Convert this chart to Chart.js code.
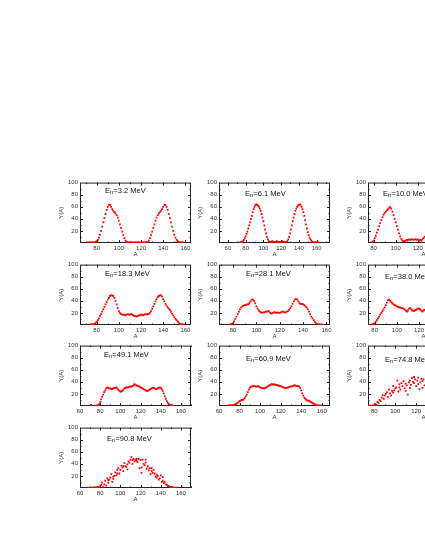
<!DOCTYPE html>
<html>
<head>
<meta charset="utf-8">
<script src="https://cdn.jsdelivr.net/npm/chart.js@4"></script>
<style>
  html, body { margin: 0; padding: 0; background: #fff; }
  body { width: 425px; height: 550px; overflow: hidden; position: relative; }
  .panel { position: absolute; }
</style>
</head>
<body>
<div id="wrap"></div>
<script>
// fission product yields Y(A) vs mass number A, one panel per neutron energy
const energies = ['3.2', '6.1', '10.0', '18.3', '28.1', '38.0', '49.1', '60.9', '74.8', '90.8'];

const a32 = [72,73,74,75,76,77,78,79,80,81,82,83,84,85,86,87,88,89,90,91,92,93,94,95,96,97,98,99,100,101,102,103,104,105,106,107,108,109,110,111,112,113,114,115,116,117,118,119,120,121,122,123,124,125,126,127,128,129,130,131,132,133,134,135,136,137,138,139,140,141,142,143,144,145,146,147,148,149,150,151,152,153,154,155,156,157,158];
const y32 = [1,1,1,1,1,1,1,
  2,3,5,9,14,20,27,34,41,48,55,60,63,63,60,56,53,51,49,46,42,37,31,25,19,13,8,4,2,1,
  1,1,1,0.5,1,1,1,1,1,1,1,1,0.5,1,1,1,1,
  2,4,8,13,19,25,31,37,42,46,49,51,53,56,60,63,63,60,55,48,41,34,27,20,14,9,5,3,2,1,1,1,1];

const a61 = [74,75,76,77,78,79,80,81,82,83,84,85,86,87,88,89,90,91,92,93,94,95,96,97,98,99,100,101,102,103,104,105,106,107,108,109,110,111,112,113,114,115,116,117,118,119,120,121,122,123,124,125,126,127,128,129,130,131,132,133,134,135,136,137,138,139,140,141,142,143,144,145,146,147,148,149,150,151,152,153,154,155,156,157,158,159,160,161,162];
const y61 = [1,1,2,3,5,8,11,15,19,24,29,34,40,45,51,56,60,63,64,63,62,60,57,53,48,42,36,29,22,16,10,6,3,2,
  2,2,3,2,2,2,2,3,2,2,2,2,2,3,2,2,2,2,2,
  3,6,10,16,22,29,36,42,48,53,57,60,62,63,64,63,60,56,51,45,38,31,24,18,13,9,6,4,2,1,1,1,1,1,1,1];

const a100 = [74,78,79,80,81,82,83,84,85,86,87,88,89,90,91,92,93,94,95,96,97,98,99,100,101,102,103,104,105,106,107,108,109,110,111,112,113,114,115,116,117,118,119,120,121,122,123,124,125,126,127];
const y100 = [1,1,2,4,8,12,17,22,28,33,38,43,47,50,52,54,56,58,60,57,52,46,40,34,28,22,16,11,7,4,3,3,4,5,5,6,5,6,6,5,6,6,5,6,4,5,4,6,8,10,12];

const a183 = [74,75,76,77,78,79,80,81,82,83,84,85,86,87,88,89,90,91,92,93,94,95,96,97,98,99,100,101,102,103,104,105,106,107,108,109,110,111,112,113,114,115,116,117,118,119,120,121,122,123,124,125,126,127,128,129,130,131,132,133,134,135,136,137,138,139,140,141,142,143,144,145,146,147,148,149,150,151,152,153,154,155,156,157,158,159];
const y183 = [0.5,1,1,1,2,3,5,8,11,15,18,22,26,30,34,38,42,45,48,49,49,48,45,40,34,28,23,20,18,
  17,17,17,16,17,18,17,17,18,17,16,15,15,14,15,16,16,17,17,16,17,18,17,18,18,
  20,23,27,31,35,39,43,46,48,49,49,47,43,39,35,32,29,27,25,22,19,16,13,10,8,6,4,2,1,1,0.5,0.5];

const a281 = [77,78,79,80,81,82,83,84,85,86,87,88,89,90,91,92,93,94,95,96,97,98,99,100,101,102,103,104,105,106,107,108,109,110,111,112,113,114,115,116,117,118,119,120,121,122,123,124,125,126,127,128,129,130,131,132,133,134,135,136,137,138,139,140,141,142,143,144,145,146,147,148,149,150,151,152,153,154,155,156,157];
const y281 = [0.5,1,2,3,6,10,14,18,22,26,29,31,32,33,33,34,34,36,39,42,42,40,36,31,27,24,22,
  21,20,21,21,22,22,23,22,20,19,20,21,21,20,21,20,20,21,22,22,21,21,22,
  23,25,28,31,35,39,42,43,42,39,36,35,35,34,33,31,29,26,22,18,14,11,8,5,3,2,1,1,0.5,0.5,0.5];

const a380 = [74,77,78,79,80,81,82,83,84,85,86,87,88,89,90,91,92,93,94,95,96,97,98,99,100,101,102,103,104,105,106,107,108,109,110,111,112,113,114,115,116,117,118,119,120,121,122,123,124,125,126];
const y380 = [0.5,0.5,1,2,3,5,8,11,14,17,20,23,26,29,33,37,41,42,40,38,36,34,33,32,31,30,29,29,28,28,27,26,24,22,24,27,28,26,24,23,24,25,26,27,27,26,24,22,24,25,26];

const a491 = [71,76,77,78,79,80,81,82,83,84,85,86,87,88,89,90,91,92,93,94,95,96,97,98,99,100,101,102,103,104,105,106,107,108,109,110,111,112,113,114,115,116,117,118,119,120,121,122,123,124,125,126,127,128,129,130,131,132,133,134,135,136,137,138,139,140,141,142,143,144,145,146,147,148,149,150,151,152,161];
const y491 = [2,
  0.5,0.5,1,3,7,11,15,19,23,26,
  29,31,30,29,29,28,28,29,30,30,
  31,29,27,25,24,24,25,27,29,30,
  31,31,31,32,32,32,33,34,36,35,
  34,33,33,32,31,30,29,28,27,26,
  25,25,26,27,28,29,30,30,29,28,
  28,29,30,31,30,28,25,21,16,12,
  8,5,3,2,1,1,0.5,
  1];

const a609 = [69,70,71,72,73,74,75,76,77,78,79,80,81,82,83,84,85,86,87,88,89,90,91,92,93,94,95,96,97,98,99,100,101,102,103,104,105,106,107,108,109,110,111,112,113,114,115,116,117,118,119,120,121,122,123,124,125,126,127,128,129,130,131,132,133,134,135,136,137,138,139,140,141,142,143,144,145,146,147,148,149,150,151,152,153,154,155,156,157,158,159,160];
const y609 = [0.5,0.5,1,1,1,2,2,3,4,5,
  6,8,9,10,10,11,13,16,19,23,
  27,30,32,32,33,33,33,32,32,33,
  32,31,30,30,29,29,30,31,32,33,
  34,35,36,36,35,36,35,35,34,34,
  33,33,32,31,31,30,30,30,31,31,
  32,32,33,33,34,34,33,33,33,32,
  30,26,21,17,14,12,10,9,9,8,
  7,6,5,4,3,2,1.5,1,1,0.5,
  0.5,0.5];

const a748 = [73,75,77,79,80,81,82,83,84,85,86,87,88,89,90,91,92,93,94,95,96,97,98,99,100,101,102,103,104,105,106,107,108,109,110,111,112,113,114,115,116,117,118,119,120,121,122,123,124,125,126,127,128,
  98,104,110,114,118,122,126];
const y748 = [1,0.5,0.5,1,
  0.5,3,2,7,5,10,8,14,18,12,
  17,20,23,15,27,21,17,25,33,26,
  29,31,42,24,36,27,38,33,41,29,
  37,34,19,39,42,35,46,40,48,44,
  33,42,36,28,39,45,30,44,34,
  22,31,25,30,38,47,41];

const a908 = [68,70,72,74,75,76,77,78,79,80,81,82,83,84,85,86,87,88,89,90,91,92,93,94,95,96,97,98,99,100,101,102,103,104,105,106,107,108,109,110,111,112,113,114,115,116,117,118,119,120,121,122,123,124,125,126,127,128,129,130,131,132,133,134,135,136,137,138,139,140,141,142,143,144,145,146,147,148,149,150,151,152,153,155,157,
  88,93,97,103,107,112,116,121,125,131,136,142];
const y908 = [0.5,0.5,0.5,1,
  0.5,1,1,2,1,3,5,9,2,6,
  12,4,16,9,14,17,23,10,15,20,
  26,21,30,33,24,30,37,34,28,41,
  36,35,39,44,42,47,51,46,48,44,
  46,45,43,48,33,46,25,47,40,38,
  42,32,36,29,33,23,33,25,30,24,
  19,22,20,14,16,21,10,12,8,10,
  6,5,3,3,2,2,1,1,0.5,
  0.5,0.5,
  13,19,24,36,31,40,48,34,47,28,17,18];

const xTicks = [60, 80, 100, 120, 140, 160];
const yTicks = [20, 40, 60, 80, 100];

// panel layout: plot-area corner, x range, label offset
const panels = [
  { a: a32,  y: y32,  min: 65, max: 165, left: 80,  top: 182, dx: 25, dy: 8 },
  { a: a61,  y: y61,  min: 50, max: 175, left: 219, top: 182, dx: 26, dy: 11 },
  { a: a100, y: y100, min: 75, max: 175, left: 368, top: 182, dx: 15, dy: 11 },
  { a: a183, y: y183, min: 65, max: 165, left: 80,  top: 264, dx: 25, dy: 9 },
  { a: a281, y: y281, min: 68, max: 163, left: 219, top: 264, dx: 27, dy: 9 },
  { a: a380, y: y380, min: 74, max: 174, left: 368, top: 264, dx: 17, dy: 12 },
  { a: a491, y: y491, min: 60, max: 170, left: 80,  top: 345, dx: 24, dy: 9 },
  { a: a609, y: y609, min: 60, max: 168, left: 219, top: 345, dx: 27, dy: 13 },
  { a: a748, y: y748, min: 74, max: 180, left: 368, top: 345, dx: 17, dy: 14 },
  { a: a908, y: y908, min: 60, max: 170, left: 80,  top: 427, dx: 27, dy: 11 }
];

const FONT = '"Liberation Sans", Arial, sans-serif';
const PLOT_W = 111, PLOT_H = 61;
const PAD_L = 22, PAD_T = 5, PAD_R = 4, PAD_B = 15;

// box round the plot with small inward ticks on all four sides
const frameTicks = {
  id: 'frameTicks',
  beforeDatasetsDraw(chart) {
    const { ctx, chartArea: ca, scales: { x, y } } = chart;
    ctx.save();
    ctx.strokeStyle = '#222';
    ctx.lineWidth = 1;
    ctx.strokeRect(ca.left + 0.5, ca.top + 0.5, ca.width - 1, ca.height - 1);
    ctx.beginPath();
    for (let v = Math.ceil(x.min / 10) * 10; v <= x.max; v += 10) {
      const px = Math.round(x.getPixelForValue(v)) + 0.5;
      const len = v % 20 === 0 ? 3 : 1.5;
      ctx.moveTo(px, ca.bottom); ctx.lineTo(px, ca.bottom - len);
      ctx.moveTo(px, ca.top); ctx.lineTo(px, ca.top + len);
    }
    for (let v = 10; v < 100; v += 10) {
      const py = Math.round(y.getPixelForValue(v)) + 0.5;
      const len = v % 20 === 0 ? 3 : 1.5;
      ctx.moveTo(ca.left, py); ctx.lineTo(ca.left + len, py);
      ctx.moveTo(ca.right, py); ctx.lineTo(ca.right - len, py);
    }
    ctx.stroke();
    ctx.restore();
  }
};

// "En=3.2 MeV" with subscript n
const panelTitle = {
  id: 'panelTitle',
  afterDraw(chart, args, opts) {
    const { ctx, chartArea: ca } = chart;
    let x = ca.left + opts.dx;
    const y = ca.top + opts.dy;
    ctx.save();
    ctx.fillStyle = '#111';
    ctx.textBaseline = 'middle';
    ctx.font = '7.5px ' + FONT;
    ctx.fillText('E', x, y);
    x += ctx.measureText('E').width;
    ctx.font = '5.5px ' + FONT;
    ctx.fillText('n', x, y + 2);
    x += ctx.measureText('n').width + 0.3;
    ctx.font = '7.5px ' + FONT;
    ctx.fillText('=' + opts.text + ' MeV', x, y);
    ctx.restore();
  }
};

const wrap = document.getElementById('wrap');

panels.forEach((p, i) => {
  const box = document.createElement('div');
  box.className = 'panel';
  const w = PAD_L + PLOT_W + PAD_R, h = PAD_T + PLOT_H + PAD_B;
  box.style.left = (p.left - PAD_L) + 'px';
  box.style.top = (p.top - PAD_T) + 'px';
  box.style.width = w + 'px';
  box.style.height = h + 'px';
  const cv = document.createElement('canvas');
  cv.width = w; cv.height = h;
  cv.style.width = w + 'px'; cv.style.height = h + 'px';
  box.appendChild(cv);
  wrap.appendChild(box);

  new Chart(cv, {
    type: 'scatter',
    data: {
      datasets: [{
        data: p.a.map((v, k) => ({ x: v, y: p.y[k] })),
        backgroundColor: '#ff0000',
        borderWidth: 0,
        pointStyle: 'rect',
        pointRadius: 1.25
      }]
    },
    options: {
      responsive: false,
      animation: false,
      events: [],
      layout: { padding: { top: PAD_T, right: PAD_R, left: 0, bottom: 0 } },
      plugins: {
        legend: { display: false },
        tooltip: { enabled: false },
        panelTitle: { text: energies[i], dx: p.dx, dy: p.dy }
      },
      scales: {
        x: {
          type: 'linear',
          min: p.min,
          max: p.max,
          grid: { display: false, drawTicks: false },
          border: { display: false },
          afterBuildTicks(s) {
            s.ticks = xTicks.filter(v => v >= p.min && v <= p.max).map(v => ({ value: v }));
          },
          ticks: {
            autoSkip: false, maxRotation: 0,
            padding: 2, color: '#333', font: { size: 6, family: FONT }
          },
          title: { display: true, text: 'A', color: '#333', padding: 0, font: { size: 6, family: FONT } },
          afterFit(s) { s.height = PAD_B; }
        },
        y: {
          min: 0,
          max: 100,
          grid: { display: false, drawTicks: false },
          border: { display: false },
          afterBuildTicks(s) { s.ticks = yTicks.map(v => ({ value: v })); },
          ticks: {
            padding: 2, color: '#333', font: { size: 6, family: FONT }
          },
          title: { display: true, text: 'Y(A)', color: '#333', padding: 0, font: { size: 6, family: FONT } },
          afterFit(s) { s.width = PAD_L; }
        }
      }
    },
    plugins: [frameTicks, panelTitle]
  });
});
</script>
</body>
</html>
